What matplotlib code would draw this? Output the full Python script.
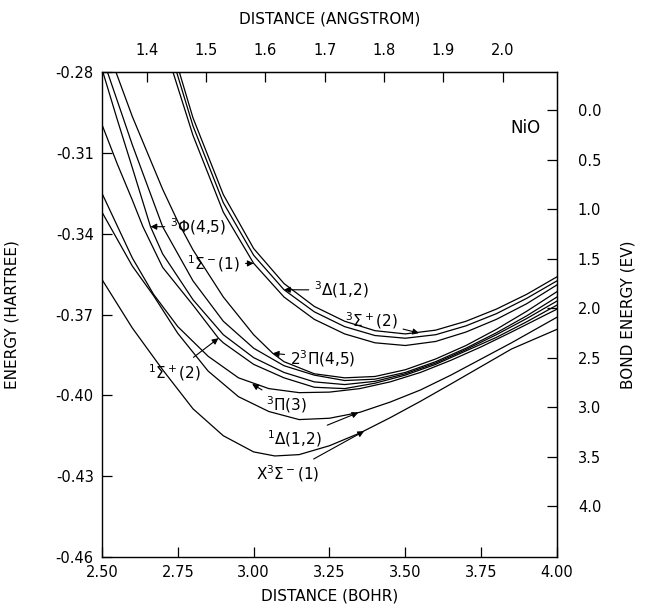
import numpy as np
import matplotlib.pyplot as plt

plt.rcParams['font.family'] = ['DejaVu Sans']
plt.rcParams['axes.unicode_minus'] = False
plt.rcParams['mathtext.fontset'] = 'dejavusans'

HARTREE_EV = 27.2114
E_ZERO = -0.2941      # bond energy reference (hartree)
ANG_REF = (1.4, 2.648)  # top scale: 1.4 angstrom sits at 2.648 bohr on the drawing
BOHR_PER_ANG = 1.955    # spacing of the top scale as drawn

# potential curves: distance (bohr), energy (hartree)
r_X = [2.50, 2.60, 2.70, 2.80, 2.90, 3.00, 3.07, 3.15, 3.25, 3.35, 3.45, 3.55, 3.65, 3.75, 3.85, 4.00]
e_X = [-0.357, -0.375, -0.3905, -0.405, -0.415, -0.421, -0.4225, -0.422, -0.4187, -0.414,
       -0.4083, -0.4022, -0.3958, -0.3893, -0.3828, -0.3755]

r_1D = [2.50, 2.60, 2.67, 2.75, 2.85, 2.95, 3.05, 3.15, 3.25, 3.35, 3.45, 3.55, 3.65, 3.75, 3.85, 4.00]
e_1D = [-0.332, -0.352, -0.363, -0.377, -0.391, -0.4005, -0.406, -0.409, -0.4085, -0.4063,
        -0.4025, -0.398, -0.3925, -0.3865, -0.3805, -0.371]

r_3P = [2.50, 2.60, 2.67, 2.75, 2.85, 2.95, 3.05, 3.15, 3.25, 3.35, 3.45, 3.55, 3.65, 3.75, 3.85, 4.00]
e_3P = [-0.325, -0.349, -0.3625, -0.3745, -0.3855, -0.3935, -0.3975, -0.399, -0.3988, -0.3975,
        -0.395, -0.3915, -0.387, -0.382, -0.3765, -0.368]

r_1Sp = [2.50, 2.55, 2.60, 2.635, 2.70, 2.80, 2.884, 2.90, 3.00, 3.10, 3.20, 3.30, 3.40, 3.50,
         3.60, 3.70, 3.80, 3.90, 4.00]
e_1Sp = [-0.2995, -0.314, -0.3275, -0.3374, -0.3525, -0.3665, -0.3788, -0.3805, -0.3885, -0.3935,
         -0.397, -0.3975, -0.3955, -0.3925, -0.3885, -0.3835, -0.3785, -0.3727, -0.3665]

r_3F1 = [2.503, 2.55, 2.60, 2.66, 2.70, 2.80, 2.90, 3.00, 3.10, 3.20, 3.30, 3.40, 3.50, 3.60,
         3.70, 3.80, 3.90, 4.00]
e_3F1 = [-0.28, -0.2975, -0.3155, -0.3374, -0.3475, -0.3645, -0.3775, -0.386, -0.3915, -0.395,
         -0.396, -0.3948, -0.392, -0.388, -0.383, -0.3775, -0.3715, -0.365]

r_3F2 = [2.518, 2.55, 2.60, 2.70, 2.80, 2.90, 3.00, 3.10, 3.20, 3.30, 3.40, 3.50, 3.60, 3.70,
         3.80, 3.90, 4.00]
e_3F2 = [-0.28, -0.2905, -0.307, -0.3374, -0.3575, -0.3725, -0.3825, -0.389, -0.3925, -0.3945,
         -0.394, -0.3915, -0.3875, -0.3825, -0.3768, -0.3705, -0.3635]

r_23P = [2.546, 2.60, 2.70, 2.75, 2.80, 2.90, 3.00, 3.063, 3.10, 3.20, 3.30, 3.40, 3.50, 3.60,
         3.70, 3.80, 3.90, 4.00]
e_23P = [-0.28, -0.2965, -0.3235, -0.3355, -0.346, -0.3635, -0.3775, -0.3844, -0.3875, -0.392,
         -0.3935, -0.393, -0.3905, -0.3865, -0.3815, -0.3755, -0.3688, -0.3615]

r_T1 = [2.734, 2.80, 2.90, 3.00, 3.10, 3.20, 3.30, 3.40, 3.50, 3.60, 3.70, 3.80, 3.90, 4.00]
e_T1 = [-0.28, -0.3035, -0.332, -0.351, -0.3635, -0.3718, -0.3772, -0.3805, -0.3815, -0.380,
        -0.3765, -0.3718, -0.366, -0.359]
r_T2 = [2.746, 2.80, 2.90, 3.00, 3.10, 3.20, 3.30, 3.40, 3.50, 3.60, 3.70, 3.80, 3.90, 4.00]
e_T2 = [-0.28, -0.300, -0.3285, -0.348, -0.3608, -0.369, -0.3745, -0.3778, -0.3788, -0.3775,
        -0.3742, -0.3697, -0.364, -0.3575]
r_T3 = [2.755, 2.80, 2.90, 3.00, 3.10, 3.20, 3.30, 3.40, 3.50, 3.60, 3.70, 3.80, 3.90, 4.00]
e_T3 = [-0.28, -0.297, -0.3255, -0.3455, -0.3585, -0.367, -0.3725, -0.376, -0.3772, -0.3758,
        -0.3725, -0.368, -0.3625, -0.356]

curves = [(r_X, e_X), (r_1D, e_1D), (r_3P, e_3P), (r_1Sp, e_1Sp), (r_3F1, e_3F1),
          (r_3F2, e_3F2), (r_23P, e_23P), (r_T1, e_T1), (r_T2, e_T2), (r_T3, e_T3)]

# state labels: text, arrow tip, text position, alignment
labels = [
    (r'$^3\Phi$(4,5)', (2.66, -0.3374), (2.725, -0.3374), 'left'),
    (r'$^1\Sigma^-$(1)', (3.00, -0.3510), (2.955, -0.3512), 'right'),
    (r'$^3\Delta$(1,2)', (3.10, -0.3608), (3.20, -0.3609), 'left'),
    (r'$^3\Sigma^+$(2)', (3.545, -0.3769), (3.30, -0.3724), 'left'),
    (r'2$^3\Pi$(4,5)', (3.063, -0.3844), (3.12, -0.3862), 'left'),
    (r'$^1\Sigma^+$(2)', (2.884, -0.3788), (2.825, -0.3914), 'right'),
    (r'$^3\Pi$(3)', (2.995, -0.3958), (3.04, -0.4034), 'left'),
    (r'$^1\Delta$(1,2)', (3.345, -0.4064), (3.225, -0.4160), 'right'),
    (r'X$^3\Sigma^-$(1)', (3.364, -0.4133), (3.216, -0.4290), 'right'),
]

fig = plt.figure(figsize=(6.52, 6.10), dpi=100)
ax = fig.add_axes([0.1564, 0.0869, 0.6979, 0.795])

for xs, es in curves:
    ax.plot(xs, es, color='black', lw=0.9)

ax.set_xlim(2.5, 4.0)
ax.set_ylim(-0.46, -0.28)
xt = np.arange(2.5, 4.01, 0.25)
ax.set_xticks(xt)
ax.set_xticklabels(['%.2f' % v for v in xt])
yt = np.arange(-0.46, -0.279, 0.03)
ax.set_yticks(yt)
ax.set_yticklabels(['%.2f' % v for v in yt])
ax.tick_params(direction='in', length=7, width=0.9, labelsize=10.5, pad=6,
               top=False, right=False)
for s in ax.spines.values():
    s.set_linewidth(1.0)
ax.set_xlabel('DISTANCE (BOHR)', fontsize=11, labelpad=6)
ax.set_ylabel('ENERGY (HARTREE)', fontsize=11, labelpad=26)


def to_ang(b):
    return ANG_REF[0] + (b - ANG_REF[1]) / BOHR_PER_ANG


def to_bohr(a):
    return ANG_REF[1] + (a - ANG_REF[0]) * BOHR_PER_ANG


secx = ax.secondary_xaxis('top', functions=(to_ang, to_bohr))
at = [1.4, 1.5, 1.6, 1.7, 1.8, 1.9, 2.0]
secx.set_xticks(at)
secx.set_xticklabels(['%.1f' % v for v in at])
secx.tick_params(direction='in', length=7, width=0.9, labelsize=10.5, pad=10)
secx.set_xlabel('DISTANCE (ANGSTROM)', fontsize=11, labelpad=14)

secy = ax.secondary_yaxis('right', functions=(lambda e: (E_ZERO - e) * HARTREE_EV,
                                              lambda v: E_ZERO - v / HARTREE_EV))
bt = np.arange(0.0, 4.01, 0.5)
secy.set_yticks(bt)
secy.set_yticklabels(['%.1f' % v for v in bt])
secy.tick_params(direction='in', length=7, width=0.9, labelsize=10.5, pad=15)
secy.set_ylabel('BOND ENERGY (EV)', fontsize=11, labelpad=14)

for txt, tip, pos, ha in labels:
    ax.annotate(txt, xy=tip, xytext=pos, ha=ha, va='center', fontsize=11,
                arrowprops=dict(arrowstyle='-|>', color='black', lw=0.8,
                                mutation_scale=9, shrinkA=2, shrinkB=0))

ax.text(3.895, -0.3008, 'NiO', fontsize=12, ha='center', va='center')

fig.savefig('out.png', dpi=100)
